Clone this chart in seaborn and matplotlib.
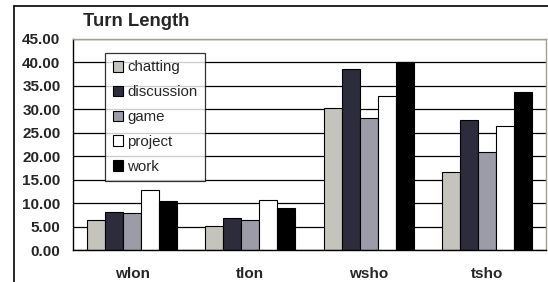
import pandas as pd
import numpy as np
import matplotlib
matplotlib.use("Agg")
import matplotlib.pyplot as plt
import seaborn as sns
from matplotlib.lines import Line2D

categories = ["wlon", "tlon", "wsho", "tsho"]
activities = ["chatting", "discussion", "game", "project", "work"]

chatting = [6.5, 5.2, 30.2, 16.7]
discussion = [8.2, 6.9, 38.6, 27.7]
game = [7.8, 6.4, 28.1, 21.0]
project = [12.8, 10.6, 32.9, 26.5]
work = [10.4, 8.9, 40.1, 33.8]

yticks = [0, 5, 10, 15, 20, 25, 30, 35, 40, 45]

series = {"chatting": chatting, "discussion": discussion, "game": game,
          "project": project, "work": work}
rows = []
for act in activities:
    for cat, val in zip(categories, series[act]):
        rows.append({"cat": cat, "activity": act, "value": val})
df = pd.DataFrame(rows)

colors = ["#c4c4bc", "#2c2c3c", "#9c9ca8", "#ffffff", "#000000"]

sns.set_style("white")
plt.rcParams['font.family'] = ['Liberation Sans', 'DejaVu Sans']

fig = plt.figure(figsize=(5.48, 2.82), dpi=100)
ax = fig.add_axes([73/548, 32/282, 473/548, 211/282])

sns.barplot(data=df, x="cat", y="value", hue="activity", order=categories,
            hue_order=activities, palette=colors, width=0.76, gap=0,
            edgecolor="black", linewidth=0.8, saturation=1, ax=ax,
            legend=False)

ax.set_ylim(0, 45)
ax.set_xlim(-0.5, len(categories) - 0.5)
ax.set_yticks(yticks)
ax.set_yticklabels([f"{v:.2f}" for v in yticks], fontsize=11, fontweight="bold")
ax.set_xticks(range(len(categories)))
ax.set_xticklabels(categories, fontsize=11, fontweight="bold")
ax.tick_params(axis="x", length=0, pad=12)
ax.set_xticks(np.arange(-0.5, len(categories) + 0.5, 1), minor=True)
ax.tick_params(axis="x", which="minor", length=5, width=1, color="black", direction="out")
ax.tick_params(axis="y", length=5, width=1, color="black", direction="out", pad=4)
ax.set_xlabel("")
ax.set_ylabel("")
ax.yaxis.grid(True, color="black", linewidth=0.9)
ax.set_axisbelow(True)

for side in ["left", "bottom"]:
    ax.spines[side].set_visible(True)
    ax.spines[side].set_color("black")
    ax.spines[side].set_linewidth(1)
for side in ["top", "right"]:
    ax.spines[side].set_visible(True)
    ax.spines[side].set_color("#a0a090")
    ax.spines[side].set_linewidth(1)

handles = [plt.Rectangle((0, 0), 1, 1, facecolor=c, edgecolor="black", linewidth=0.8)
           for c in colors]
leg = ax.legend(handles, activities, loc="upper left",
                bbox_to_anchor=(32/473, (250-53)/211), fontsize=10.8,
                frameon=True, fancybox=False, edgecolor="black",
                handlelength=0.7, handleheight=0.7, handletextpad=0.3,
                labelspacing=0.72, borderpad=0.5, borderaxespad=0)
leg.get_frame().set_linewidth(0.9)

fig.text(83/548, 1 - 21/282, "Turn Length", fontsize=13.3, fontweight="bold",
         va="center", ha="left")

fig.add_artist(Line2D([14/548, 14/548], [0, 1 - 6/282], color="black", linewidth=1.2))
fig.add_artist(Line2D([14/548, 1], [1 - 6/282, 1 - 6/282], color="black", linewidth=1.2))

fig.savefig("out.png", dpi=100)
